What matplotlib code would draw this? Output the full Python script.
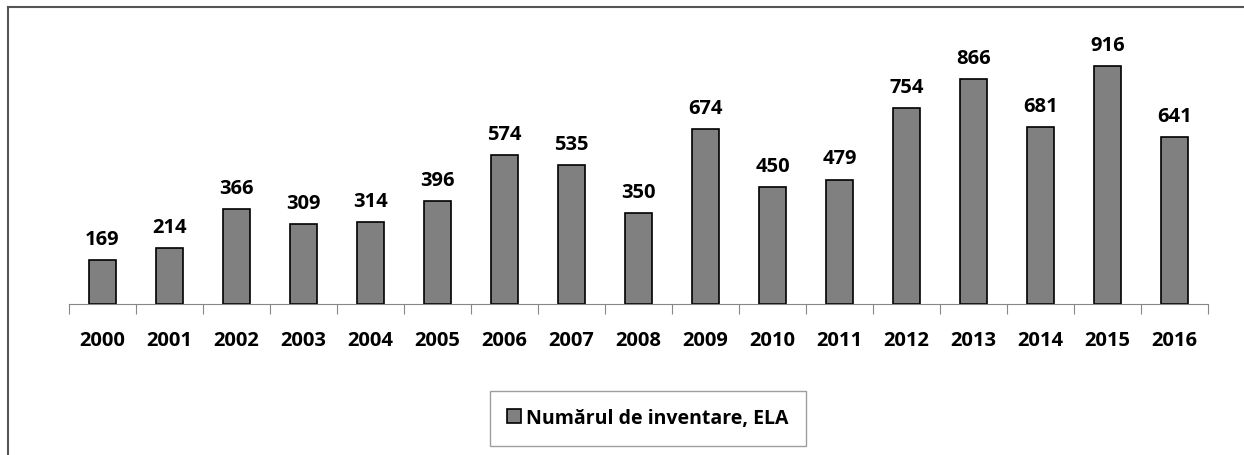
import matplotlib.pyplot as plt
from matplotlib.lines import Line2D
import numpy as np

plt.rcParams["font.family"] = ["Open Sans", "DejaVu Sans"]
plt.rcParams["font.weight"] = "bold"

# Werte aus dem Diagramm
ani = ["2000", "2001", "2002", "2003", "2004", "2005", "2006", "2007", "2008",
       "2009", "2010", "2011", "2012", "2013", "2014", "2015", "2016"]
inventare = [169, 214, 366, 309, 314, 396, 574, 535, 350,
             674, 450, 479, 754, 866, 681, 916, 641]
serie_name = "Numărul de inventare, ELA"

x = np.arange(len(ani))

fig = plt.figure(figsize=(12.44, 4.56), dpi=100)
ax = fig.add_axes([69 / 1244, 1 - 305 / 456, (1208 - 69) / 1244, 285 / 456])

bars = ax.bar(x, inventare, width=0.4, color="#808080", edgecolor="black",
              linewidth=1.2, label=serie_name)

for xi, v in zip(x, inventare):
    ax.annotate(str(v), (xi, v), xytext=(0, 8), textcoords="offset points",
                ha="center", va="bottom", fontsize=14.5, fontweight="bold")

ax.set_xlim(-0.5, len(ani) - 0.5)
ax.set_ylim(0, 1097)
ax.set_yticks([])
for s in ["top", "right", "left"]:
    ax.spines[s].set_visible(False)
ax.spines["bottom"].set_color("#868686")

# Striche zwischen den Kategorien
ax.set_xticks(np.arange(-0.5, len(ani), 1.0))
ax.set_xticklabels([])
ax.tick_params(axis="x", length=7, color="#868686", direction="out")
ax.set_xticks(x, minor=True)
ax.set_xticklabels(ani, minor=True, fontsize=14.5, fontweight="bold")
ax.tick_params(axis="x", which="minor", length=0, pad=19)

leg = fig.legend(handles=[bars], labels=[serie_name], loc="center",
                 bbox_to_anchor=(648 / 1244, 1 - 419 / 456), frameon=True,
                 fancybox=False, edgecolor="#868686", fontsize=14,
                 handlelength=0.7, handleheight=0.7, handletextpad=0.3,
                 borderpad=0.9, borderaxespad=0)
leg.get_frame().set_linewidth(1.0)
for t in leg.get_texts():
    t.set_fontweight("bold")

# Rahmen links und oben
fig.add_artist(Line2D([8 / 1244, 8 / 1244], [0, 1 - 8 / 456],
                      transform=fig.transFigure, color="#555555", lw=1.5))
fig.add_artist(Line2D([8 / 1244, 1], [1 - 8 / 456, 1 - 8 / 456],
                      transform=fig.transFigure, color="#555555", lw=1.5))

fig.savefig("out.png", dpi=100)
